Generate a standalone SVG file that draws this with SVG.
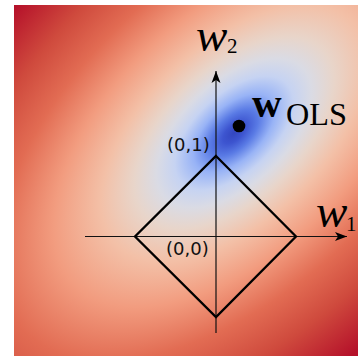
<svg xmlns="http://www.w3.org/2000/svg" width="358" height="356" viewBox="0 0 358 356">
  <defs>
    <radialGradient id="loss" gradientUnits="userSpaceOnUse" cx="0" cy="0" r="1" gradientTransform="translate(234 133) rotate(-43) scale(450 245)">
      <stop offset="0" stop-color="#3346bf"/>
      <stop offset="0.03" stop-color="#3d55d0"/>
      <stop offset="0.065" stop-color="#5a7be5"/>
      <stop offset="0.11" stop-color="#98b3f6"/>
      <stop offset="0.16" stop-color="#c6d3f2"/>
      <stop offset="0.21" stop-color="#dadbe4"/>
      <stop offset="0.27" stop-color="#e8d5ca"/>
      <stop offset="0.36" stop-color="#f3c0a7"/>
      <stop offset="0.49" stop-color="#f29c7f"/>
      <stop offset="0.64" stop-color="#e26c53"/>
      <stop offset="0.80" stop-color="#cf4a3d"/>
      <stop offset="1" stop-color="#b5112a"/>
    </radialGradient>
    <marker id="arrow" markerUnits="userSpaceOnUse" markerWidth="14" markerHeight="12" viewBox="-13 -6 14 12" refX="0" refY="0" orient="auto">
      <path d="M0,0 L-12,-4.5 L-9,0 L-12,4.5 Z" fill="#000"/>
    </marker>
    <style>
      .axis { stroke: #111; stroke-width: 1.2; fill: none; }
      .ball { stroke: #000; stroke-width: 2.3; fill: none; stroke-linejoin: miter; }
      .math { font-family: "Liberation Serif", "DejaVu Serif", serif; font-style: italic; fill: #000; }
      .sub { font-family: "Liberation Serif", "DejaVu Serif", serif; fill: #000; }
      .coord { font-family: "DejaVu Sans", "Liberation Sans", sans-serif; font-size: 18px; fill: #111; }
    </style>
  </defs>

  <g id="background">
    <rect x="14" y="5" width="344" height="351" fill="url(#loss)"/>
  </g>

  <g id="connectors">
    <line class="axis" x1="85" y1="236.5" x2="347" y2="236.5" marker-end="url(#arrow)"/>
    <line class="axis" x1="216" y1="333" x2="216" y2="71" marker-end="url(#arrow)"/>
  </g>

  <g id="l1-ball">
    <polygon class="ball" points="216,156 296,236.5 216,317 135,236.5"/>
  </g>

  <g id="w-ols">
    <circle cx="239" cy="126" r="6.3" fill="#000"/>
    <text x="252" y="117" font-family="Liberation Serif, DejaVu Serif, serif" font-weight="bold" font-size="41">w</text>
    <text x="286" y="125" class="sub" font-size="31" textLength="61" lengthAdjust="spacingAndGlyphs">OLS</text>
  </g>

  <g id="label-w2">
    <text x="196" y="51" class="math" font-size="47">w</text>
    <text x="227" y="53" class="sub" font-size="21">2</text>
  </g>

  <g id="label-w1">
    <text x="316" y="227" class="math" font-size="47">w</text>
    <text x="346" y="231" class="sub" font-size="21">1</text>
  </g>

  <g id="label-01">
    <text x="167" y="151" class="coord">(0,1)</text>
  </g>

  <g id="label-00">
    <text x="166" y="255" class="coord">(0,0)</text>
  </g>
</svg>
